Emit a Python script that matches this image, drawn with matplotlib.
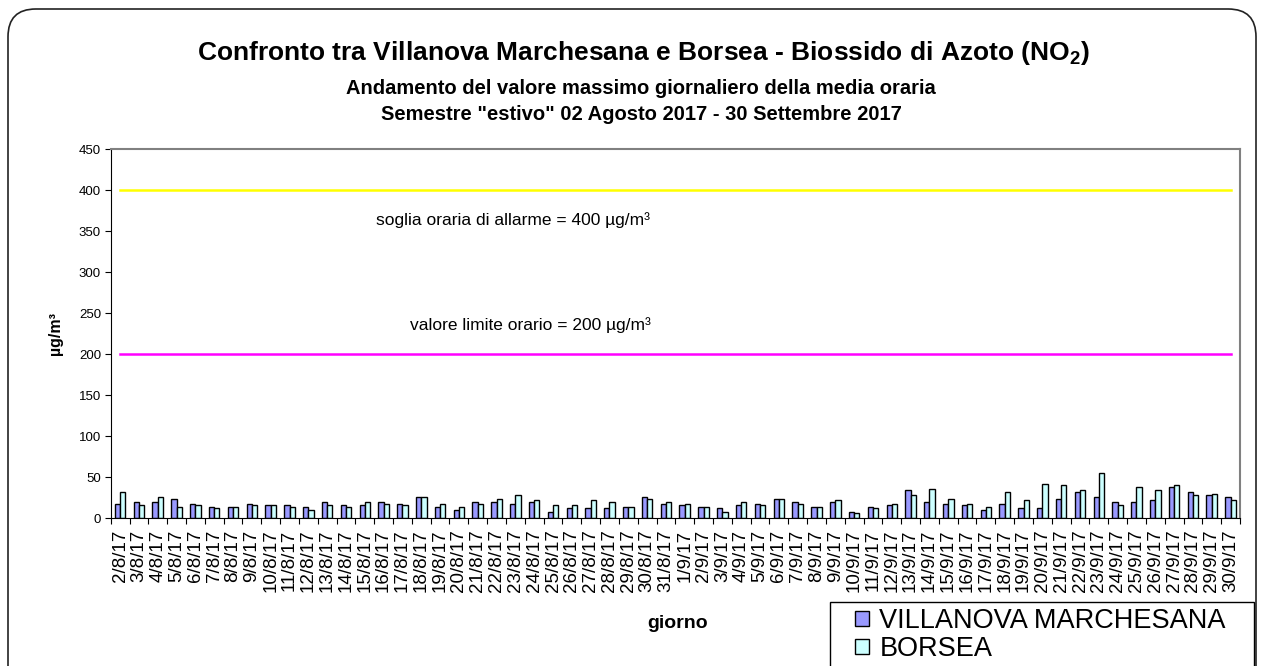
import numpy as np
import matplotlib
matplotlib.use('Agg')
import matplotlib.pyplot as plt
from matplotlib.patches import FancyBboxPatch, Rectangle

plt.rcParams['font.family'] = ['Liberation Sans', 'DejaVu Sans']
plt.rcParams['mathtext.fontset'] = 'custom'
plt.rcParams['mathtext.bf'] = 'Liberation Sans:bold'
plt.rcParams['mathtext.rm'] = 'Liberation Sans'

giorni = ['%d/8/17' % d for d in range(2, 32)] + ['%d/9/17' % d for d in range(1, 31)]
villanova = [18, 20, 20, 24, 18, 14, 14, 18, 16, 16, 14, 20, 16, 16, 20,
             18, 26, 14, 10, 20, 20, 18, 20, 8, 12, 12, 12, 14, 26, 18,
             16, 14, 12, 16, 18, 24, 20, 14, 20, 8, 14, 16, 34, 20, 18,
             16, 10, 18, 12, 12, 24, 32, 26, 20, 20, 22, 38, 32, 28, 26]
borsea = [32, 16, 26, 14, 16, 12, 14, 16, 16, 14, 10, 16, 14, 20, 18,
          16, 26, 18, 14, 18, 24, 28, 22, 16, 16, 22, 20, 14, 24, 20,
          18, 14, 8, 20, 16, 24, 18, 14, 22, 6, 12, 18, 28, 36, 24,
          18, 14, 32, 22, 42, 40, 34, 55, 16, 38, 34, 40, 28, 30, 22]
soglia_allarme = 400
valore_limite = 200

W, H = 1263, 666
fig = plt.figure(figsize=(W / 100, H / 100), dpi=100)

# bordo arrotondato esterno
fig.patches.append(FancyBboxPatch((8 / W, -30 / H), (1256 - 8) / W, (H - 9 + 30) / H,
                                  boxstyle='round,pad=0,rounding_size=0.022',
                                  transform=fig.transFigure, fill=False,
                                  edgecolor='#222222', linewidth=1.2, mutation_aspect=W / H))

ax = fig.add_axes([110.7 / W, 1 - 518.3 / H, (1240 - 110.7) / W, (518.3 - 149) / H])

x = np.arange(len(giorni))
w = 0.28
ax.bar(x - w / 2, villanova, w, color='#9999FF', edgecolor='black', linewidth=1, label='VILLANOVA MARCHESANA')
ax.bar(x + w / 2, borsea, w, color='#CCFFFF', edgecolor='black', linewidth=1, label='BORSEA')

ax.plot([x[0], x[-1]], [soglia_allarme, soglia_allarme], color='#FFFF00', linewidth=1.8)
ax.plot([x[0], x[-1]], [valore_limite, valore_limite], color='#FF00FF', linewidth=1.8)
ax.text(20.9, 363, 'soglia oraria di allarme = 400 µg/m³', ha='center', va='center', fontsize=12.5)
ax.text(21.8, 236, 'valore limite orario = 200 µg/m³', ha='center', va='center', fontsize=12.5)

ax.set_xlim(-0.5, len(giorni) - 0.5)
ax.set_ylim(0, 450)
ax.set_yticks(np.arange(0, 451, 50))
ax.set_xticks(np.arange(-0.5, len(giorni), 1))
ax.set_xticklabels([])
ax.set_xticks(x, minor=True)
ax.set_xticklabels(giorni, minor=True, rotation=90, fontsize=13.5)
ax.tick_params(axis='x', which='minor', length=0, pad=8)
ax.tick_params(axis='x', which='major', length=4, direction='out')
ax.tick_params(axis='y', length=4, direction='out', labelsize=9.5, pad=3)
for s in ['top', 'right']:
    ax.spines[s].set_color('#808080')
    ax.spines[s].set_linewidth(1.5)
ax.spines['left'].set_color('black')
ax.spines['bottom'].set_color('black')

ax.set_ylabel('µg/m³', fontsize=11.5, fontweight='bold', labelpad=11)
fig.text(678 / W, 1 - 623 / H, 'giorno', ha='center', va='center', fontsize=14, fontweight='bold')

fig.text(643 / W, 1 - 53 / H, r'Confronto tra Villanova Marchesana e Borsea - Biossido di Azoto (NO$_\mathbf{2}$)',
         ha='center', va='center', fontsize=19, fontweight='bold')
fig.text(641 / W, 1 - 88 / H, 'Andamento del valore massimo giornaliero della media oraria',
         ha='center', va='center', fontsize=14.5, fontweight='bold')
fig.text(641 / W, 1 - 114 / H, 'Semestre "estivo" 02 Agosto 2017 - 30 Settembre 2017',
         ha='center', va='center', fontsize=14.5, fontweight='bold')

# legenda
fig.patches.append(Rectangle((830 / W, -10 / H), (1254 - 830) / W, (H - 602 + 10) / H,
                             transform=fig.transFigure, fill=True, facecolor='white',
                             edgecolor='black', linewidth=1, zorder=1))
leg = fig.legend(loc='upper left', bbox_to_anchor=(855 / W, 1 - 608 / H), bbox_transform=fig.transFigure,
                 frameon=False, fontsize=19.5, handlelength=0.5, handleheight=0.5,
                 handletextpad=0.4, labelspacing=0.08, borderpad=0, borderaxespad=0)
leg.set_zorder(5)

fig.savefig('out.png', dpi=100)
